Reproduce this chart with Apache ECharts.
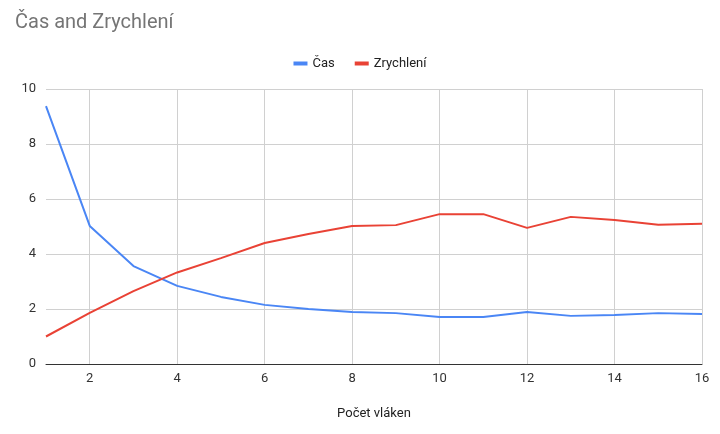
<!DOCTYPE html>
<html>
<head>
<meta charset="utf-8">
<script src="https://cdn.jsdelivr.net/npm/echarts@6/dist/echarts.min.js"></script>
<style>html,body{margin:0;padding:0;background:#fff}</style>
</head>
<body>
<div id="main" style="width:720px;height:434px"></div>
<script>
var threads = [1, 2, 3, 4, 5, 6, 7, 8, 9, 10, 11, 12, 13, 14, 15, 16];
var cas = [9.38, 5.02, 3.56, 2.84, 2.44, 2.15, 2.0, 1.89, 1.85, 1.71, 1.71, 1.89, 1.75, 1.78, 1.85, 1.82];
var zrychleni = [1.0, 1.86, 2.65, 3.33, 3.85, 4.4, 4.73, 5.02, 5.05, 5.45, 5.45, 4.95, 5.35, 5.24, 5.06, 5.1];
var xTicks = [2, 4, 6, 8, 10, 12, 14, 16];

function pairs(vals) {
    return threads.map(function (t, i) { return [t, vals[i]]; });
}

var myChart = echarts.init(document.getElementById('main'));
myChart.setOption({
    animation: false,
    textStyle: { fontFamily: 'Roboto, Arial, sans-serif' },
    title: {
        text: 'Čas and Zrychlení',
        left: 10, top: 8,
        textStyle: { color: '#757575', fontSize: 20, fontWeight: 'normal' }
    },
    legend: {
        top: 52, left: 'center', itemWidth: 14, itemHeight: 4, itemGap: 20,
        icon: 'rect',
        textStyle: { color: '#222', fontSize: 13 }
    },
    grid: { left: 46, right: 18, top: 89, bottom: 70, containLabel: false },
    xAxis: {
        type: 'value', min: 1, max: 16,
        name: 'Počet vláken', nameLocation: 'middle', nameGap: 43,
        nameTextStyle: { color: '#222', fontSize: 13 },
        axisLine: { show: true, lineStyle: { color: '#333' } },
        axisTick: { show: false, customValues: xTicks },
        axisLabel: { customValues: xTicks, color: '#333', fontSize: 13, margin: 8 },
        splitLine: { show: true, lineStyle: { color: '#d0d0d0' } }
    },
    yAxis: {
        type: 'value', min: 0, max: 10, interval: 2,
        axisLine: { show: false },
        axisTick: { show: false },
        axisLabel: { color: '#333', fontSize: 13, margin: 10 },
        splitLine: { lineStyle: { color: '#d0d0d0' } }
    },
    series: [
        { name: 'Čas', type: 'line', data: pairs(cas), symbol: 'none',
          color: '#4a86f5', lineStyle: { width: 2 } },
        { name: 'Zrychlení', type: 'line', data: pairs(zrychleni), symbol: 'none',
          color: '#e94235', lineStyle: { width: 2 } }
    ]
});
</script>
</body>
</html>
